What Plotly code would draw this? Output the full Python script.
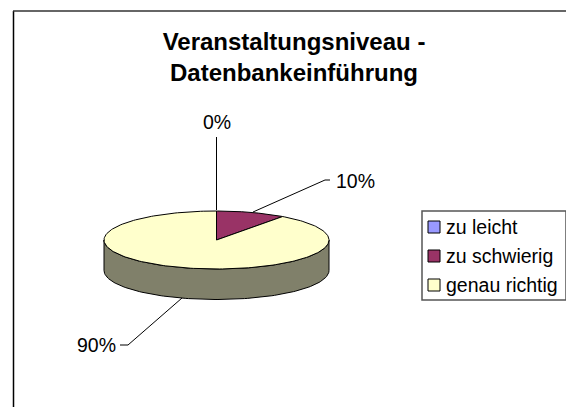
import numpy as np
import plotly.graph_objects as go

TITLE = "Veranstaltungsniveau -<br>Datenbankeinführung"
categories = ["zu leicht", "zu schwierig", "genau richtig"]
values = [0, 10, 90]
labels = ["0%", "10%", "90%"]
colors = ["#9999FF", "#993366", "#FFFFCC"]
side_color = "#80806A"
W, H = 566, 407
CX, CY, RX, RY, DEPTH = 216.5, 240, 112.5, 29, 30.5
FONT = "Liberation Sans"

sx = lambda p: (p - CX) / RX
sy = lambda p: (CY - p) / RY
fig = go.Figure()

t = np.linspace(np.pi / 2, 3 * np.pi / 2, 120)
wx = np.sin(t)
wy = np.cos(t)
depth = DEPTH / RY
fig.add_trace(go.Scatter(x=np.r_[wx, wx[::-1], wx[0]], y=np.r_[wy, wy[::-1] - depth, wy[0]],
                         mode="lines", fill="toself", fillcolor=side_color,
                         line=dict(color="black", width=1), showlegend=False, hoverinfo="skip"))

total = sum(values)
start = 0.0
for v, c in zip(values, colors):
    span = 2 * np.pi * v / total
    if v:
        a = np.linspace(start, start + span, 240)
        fig.add_trace(go.Scatter(x=np.r_[0, np.sin(a), 0], y=np.r_[0, np.cos(a), 0],
                                 mode="lines", fill="toself", fillcolor=c,
                                 line=dict(color="black", width=1), showlegend=False, hoverinfo="skip"))
    start += span

leaders = [
    ([216.5, 216.5], [210, 137]),
    ([253, 325, 330], [212, 180, 180]),
    ([182, 128, 120], [298, 345, 345]),
]
for (lx, ly) in leaders:
    fig.add_trace(go.Scatter(x=[sx(p) for p in lx], y=[sy(p) for p in ly], mode="lines",
                             line=dict(color="black", width=1), showlegend=False, hoverinfo="skip"))
label_pos = [(216.5, 122, "center"), (335.5, 181, "left"), (116, 345, "right")]
annotations = [dict(x=sx(px), y=sy(py), text=l, showarrow=False, xanchor=a, yanchor="middle",
                    borderpad=0, borderwidth=0,
                    font=dict(family=FONT, size=19.5, color="black"))
               for (px, py, a), l in zip(label_pos, labels)]

# legend
LX0, LX1, LY0, LY1 = 422, 566, 211, 300
fig.add_shape(type="rect", xref="x", yref="y", x0=sx(LX0), x1=sx(LX1), y0=sy(LY0), y1=sy(LY1),
              line=dict(color="#555555", width=1.5), fillcolor="white", layer="below")
for i, (cat, c) in enumerate(zip(categories, colors)):
    row = 227 + 29 * i
    fig.add_trace(go.Scatter(x=[sx(434)], y=[sy(row)], mode="markers", showlegend=False, hoverinfo="skip",
                             marker=dict(symbol="square", size=12, color=c, line=dict(color="black", width=1))))
    annotations.append(dict(x=sx(444.5), y=sy(row), text=cat, showarrow=False, xanchor="left", yanchor="middle",
                            borderpad=0, font=dict(family=FONT, size=19.5, color="black")))

fig.add_shape(type="line", xref="paper", yref="paper", x0=13.5 / W, x1=13.5 / W, y0=0, y1=1 - 11 / H,
              line=dict(color="black", width=1.5))
fig.add_shape(type="line", xref="paper", yref="paper", x0=13 / W, x1=1, y0=1 - 11 / H, y1=1 - 11 / H,
              line=dict(color="#333333", width=1.5))

fig.update_layout(
    width=W, height=H, margin=dict(l=0, r=0, t=0, b=0),
    paper_bgcolor="white", plot_bgcolor="white",
    title=dict(text=TITLE, x=294 / W, xanchor="center", y=1 - 50 / H, yanchor="top",
               font=dict(family=FONT, size=24, color="black", weight="bold")),
    xaxis=dict(visible=False, range=[sx(0), sx(W)], fixedrange=True),
    yaxis=dict(visible=False, range=[sy(H), sy(0)], fixedrange=True),
    showlegend=False,
    annotations=annotations,
)
fig.write_html("out.html", config=dict(displayModeBar=False),
               post_script="document.body.style.margin='0';document.body.style.overflow='hidden';")
